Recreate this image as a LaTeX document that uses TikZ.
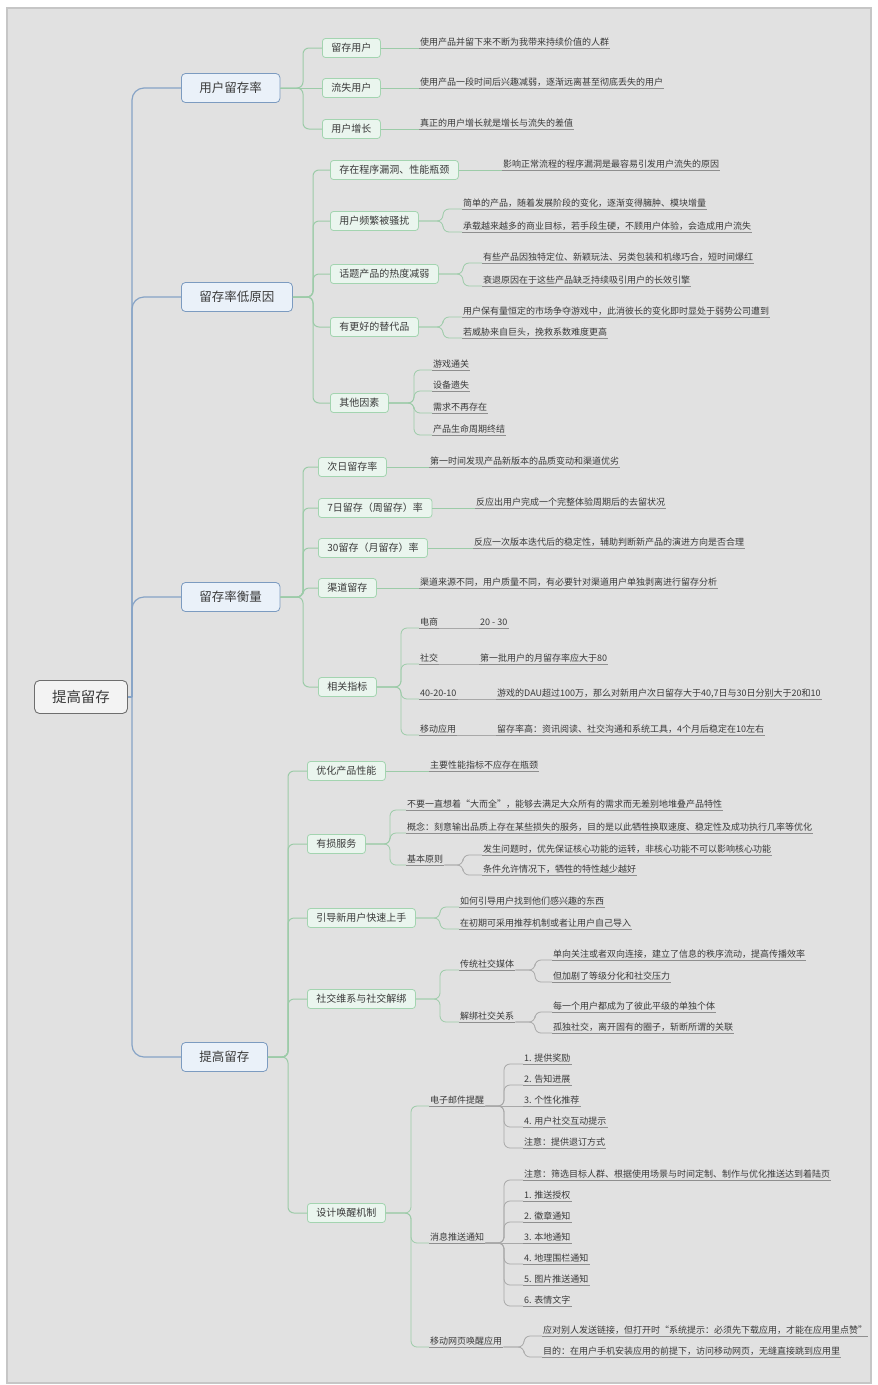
\documentclass[tikz,border=0pt]{standalone}
\usepackage{fontspec}
\setmainfont{Noto Sans CJK SC}
\usetikzlibrary{calc}
\definecolor{bg}{HTML}{E1E1E1}
\definecolor{bgedge}{HTML}{C6C6C6}
\definecolor{txt}{HTML}{3A3A3A}
\definecolor{rootline}{HTML}{86A3C6}
\definecolor{rootdraw}{HTML}{6E6E6E}
\definecolor{rootfill}{HTML}{F3F3F3}
\definecolor{lonedraw}{HTML}{7C9BC0}
\definecolor{lonefill}{HTML}{EAF1F9}
\definecolor{ltwodraw}{HTML}{A3D4B0}
\definecolor{ltwofill}{HTML}{EAF5EE}
\definecolor{greenline}{HTML}{9CCBA8}
\definecolor{grayline}{HTML}{A8A8A8}
\definecolor{ulcol}{HTML}{8E8E8E}
\tikzset{
  rootbox/.style={draw=rootdraw, fill=rootfill, line width=0.9pt, rounded corners=5pt,
    minimum width=93pt, minimum height=33pt, font=\fontsize{14.5}{16}\selectfont, text=txt},
  lonebox/.style={draw=lonedraw, fill=lonefill, line width=0.8pt, rounded corners=4pt,
    minimum height=29pt, inner xsep=18pt, font=\fontsize{12.5}{14}\selectfont, text=txt, anchor=west},
  ltwobox/.style={draw=ltwodraw, fill=ltwofill, line width=0.8pt, rounded corners=3pt,
    minimum height=19pt, inner xsep=9pt, inner ysep=1pt, font=\fontsize{10}{12}\selectfont, text=txt, anchor=west},
  ulstyle/.style={draw=ulcol, line width=0.7pt},
  leaf/.style={anchor=south west, inner xsep=1pt, inner ysep=1.5pt, text height=7.5pt, text depth=1pt,
    font=\fontsize{9}{10}\selectfont, text=txt,
    append after command={(\tikzlastnode.south west) edge[ulstyle] (\tikzlastnode.south east)}},
  czero/.style={draw=rootline, line width=1.2pt, rounded corners=12pt},
  cone/.style={draw=greenline, line width=1pt, rounded corners=6pt},
  ctwo/.style={draw=greenline, line width=0.8pt, rounded corners=6pt},
  cthree/.style={draw=grayline, line width=0.8pt, rounded corners=6pt}
}
\begin{document}
\begin{tikzpicture}[x=1pt,y=-1pt]
\useasboundingbox (0,0) rectangle (878,1385);
\fill[white] (0,0) rectangle (878,1385);
\filldraw[fill=bg, draw=bgedge, line width=1.5pt] (7,8) rectangle (871,1383);

% root and level 1
\node[rootbox] (root) at (81,697) {提高留存};
\node[lonebox] (a1) at (181,88) {用户留存率};
\node[lonebox] (a2) at (181,297) {留存率低原因};
\node[lonebox] (a3) at (181,597) {留存率衡量};
\node[lonebox] (a4) at (181,1057) {提高留存};

\coordinate (t0) at (132,0);
\coordinate (t1) at (303,0);
\coordinate (t2) at (313,0);
\coordinate (t3) at (303,0);
\coordinate (t4) at (288,0);

% ---------- group 1
\node[ltwobox] (b11) at (322,48) {留存用户};
\node[ltwobox] (b12) at (322,88) {流失用户};
\node[ltwobox] (b13) at (322,129) {用户增长};
\node[leaf] (c11) at (419,48) {使用产品并留下来不断为我带来持续价值的人群};
\node[leaf] (c12) at (419,88) {使用产品一段时间后兴趣减弱，逐渐远离甚至彻底丢失的用户};
\node[leaf] (c13) at (419,129) {真正的用户增长就是增长与流失的差值};

% ---------- group 2
\node[ltwobox] (b21) at (330,170) {存在程序漏洞、性能瓶颈};
\node[ltwobox] (b22) at (330,221) {用户频繁被骚扰};
\node[ltwobox] (b23) at (330,274) {话题产品的热度减弱};
\node[ltwobox] (b24) at (330,327) {有更好的替代品};
\node[ltwobox] (b25) at (330,403) {其他因素};
\node[leaf] (c21) at (502,170) {影响正常流程的程序漏洞是最容易引发用户流失的原因};
\node[leaf] (c22a) at (462,209) {简单的产品，随着发展阶段的变化，逐渐变得臃肿、模块增量};
\node[leaf] (c22b) at (462,232) {承载越来越多的商业目标，若手段生硬，不顾用户体验，会造成用户流失};
\node[leaf] (c23a) at (482,263) {有些产品因独特定位、新颖玩法、另类包装和机缘巧合，短时间爆红};
\node[leaf] (c23b) at (482,286) {衰退原因在于这些产品缺乏持续吸引用户的长效引擎};
\node[leaf] (c24a) at (462,317) {用户保有量恒定的市场争夺游戏中，此消彼长的变化即时显处于弱势公司遭到};
\node[leaf] (c24b) at (462,338) {若威胁来自巨头，挽救系数难度更高};
\node[leaf] (c25a) at (432,370) {游戏通关};
\node[leaf] (c25b) at (432,391) {设备遗失};
\node[leaf] (c25c) at (432,413) {需求不再存在};
\node[leaf] (c25d) at (432,435) {产品生命周期终结};
\coordinate (j22) at (443,221);
\coordinate (j23) at (463,274);
\coordinate (j24) at (443,327);
\coordinate (j25) at (414,403);

% ---------- group 3
\node[ltwobox] (b31) at (318,467) {次日留存率};
\node[ltwobox] (b32) at (318,508) {7日留存（周留存）率};
\node[ltwobox] (b33) at (318,548) {30留存（月留存）率};
\node[ltwobox] (b34) at (318,588) {渠道留存};
\node[ltwobox] (b35) at (318,687) {相关指标};
\node[leaf] (c31) at (429,467) {第一时间发现产品新版本的品质变动和渠道优劣};
\node[leaf] (c32) at (475,508) {反应出用户完成一个完整体验周期后的去留状况};
\node[leaf] (c33) at (473,548) {反应一次版本迭代后的稳定性，辅助判断新产品的演进方向是否合理};
\node[leaf] (c34) at (419,588) {渠道来源不同，用户质量不同，有必要针对渠道用户单独剥离进行留存分析};
\coordinate (j35) at (401,687);
\node[leaf] (c35a) at (419,628) {电商};
\node[leaf] (c35b) at (419,664) {社交};
\node[leaf] (c35c) at (419,699) {40-20-10};
\node[leaf] (c35d) at (419,735) {移动应用};
\node[leaf] (d35a) at (479,628) {20 - 30};
\node[leaf] (d35b) at (479,664) {第一批用户的月留存率应大于80};
\node[leaf] (d35c) at (496,699) {游戏的DAU超过100万，那么对新用户次日留存大于40,7日与30日分别大于20和10};
\node[leaf] (d35d) at (496,735) {留存率高：资讯阅读、社交沟通和系统工具，4个月后稳定在10左右};

% ---------- group 4
\node[ltwobox] (b41) at (307,771) {优化产品性能};
\node[ltwobox] (b42) at (307,844) {有损服务};
\node[ltwobox] (b43) at (307,918) {引导新用户快速上手};
\node[ltwobox] (b44) at (307,999) {社交维系与社交解绑};
\node[ltwobox] (b45) at (307,1213) {设计唤醒机制};
\node[leaf] (c41) at (429,771) {主要性能指标不应存在瓶颈};

\coordinate (j42) at (390,844);
\node[leaf] (c42a) at (406,810) {不要一直想着“大而全”，能够去满足大众所有的需求而无差别地堆叠产品特性};
\node[leaf] (c42b) at (406,833) {概念：刻意输出品质上存在某些损失的服务，目的是以此牺牲换取速度、稳定性及成功执行几率等优化};
\node[leaf] (c42c) at (406,865) {基本原则};
\coordinate (j42c) at (463,865);
\node[leaf] (c42d) at (482,855) {发生问题时，优先保证核心功能的运转，非核心功能不可以影响核心功能};
\node[leaf] (c42e) at (482,875) {条件允许情况下，牺牲的特性越少越好};

\coordinate (j43) at (440,918);
\node[leaf] (c43a) at (459,907) {如何引导用户找到他们感兴趣的东西};
\node[leaf] (c43b) at (459,929) {在初期可采用推荐机制或者让用户自己导入};

\coordinate (j44) at (440,999);
\node[leaf] (c44a) at (459,970) {传统社交媒体};
\node[leaf] (c44b) at (459,1022) {解绑社交关系};
\coordinate (j44a) at (535,970);
\coordinate (j44b) at (535,1022);
\node[leaf] (c44a1) at (552,960) {单向关注或者双向连接，建立了信息的秩序流动，提高传播效率};
\node[leaf] (c44a2) at (552,982) {但加剧了等级分化和社交压力};
\node[leaf] (c44b1) at (552,1012) {每一个用户都成为了彼此平级的单独个体};
\node[leaf] (c44b2) at (552,1033) {孤独社交，离开固有的圈子，斩断所谓的关联};

\coordinate (j45) at (411,1213);
\node[leaf] (c45a) at (429,1106) {电子邮件提醒};
\node[leaf] (c45b) at (429,1243) {消息推送通知};
\node[leaf] (c45c) at (429,1347) {移动网页唤醒应用};
\coordinate (j45a) at (504,1106);
\coordinate (j45b) at (504,1243);
\coordinate (j45c) at (524,1347);
\node[leaf] (e1) at (523,1064) {1. 提供奖励};
\node[leaf] (e2) at (523,1085) {2. 告知进展};
\node[leaf] (e3) at (523,1106) {3. 个性化推荐};
\node[leaf] (e4) at (523,1127) {4. 用户社交互动提示};
\node[leaf] (e5) at (523,1148) {注意：提供退订方式};
\node[leaf] (m0) at (523,1180) {注意：筛选目标人群、根据使用场景与时间定制、制作与优化推送达到着陆页};
\node[leaf] (m1) at (523,1201) {1. 推送授权};
\node[leaf] (m2) at (523,1222) {2. 徽章通知};
\node[leaf] (m3) at (523,1243) {3. 本地通知};
\node[leaf] (m4) at (523,1264) {4. 地理围栏通知};
\node[leaf] (m5) at (523,1285) {5. 图片推送通知};
\node[leaf] (m6) at (523,1306) {6. 表情文字};
\node[leaf] (w1) at (542,1336) {应对别人发送链接，但打开时“系统提示：必须先下载应用，才能在应用里点赞”};
\node[leaf] (w2) at (542,1357) {目的：在用户手机安装应用的前提下，访问移动网页，无缝直接跳到应用里};

% ---------- connectors: root
\draw[czero, sharp corners] (root.east) -- (root.east -| t0);
\foreach \n in {a1,a2,a3,a4}
  \draw[czero] (root.east -| t0) |- (\n.west);

% level 1 -> level 2
\draw[cone] (a1.east) -- (b12.west);
\foreach \n in {b11,b13}
  \draw[cone] (a1.east) -- (a1.east -| t1) |- (\n.west);
\foreach \n in {b21,b22,b23,b24,b25}
  \draw[cone] (a2.east) -- (a2.east -| t2) |- (\n.west);
\foreach \n in {b31,b32,b33,b34,b35}
  \draw[cone] (a3.east) -- (a3.east -| t3) |- (\n.west);
\foreach \n in {b41,b42,b43,b44,b45}
  \draw[cone] (a4.east) -- (a4.east -| t4) |- (\n.west);

% level 2 -> leaves
\draw[ctwo] (b11.east) -- (c11.south west);
\draw[ctwo] (b12.east) -- (c12.south west);
\draw[ctwo] (b13.east) -- (c13.south west);
\draw[ctwo] (b21.east) -- (c21.south west);
\foreach \n in {c22a,c22b} \draw[ctwo] (b22.east) -- (j22) |- (\n.south west);
\foreach \n in {c23a,c23b} \draw[ctwo] (b23.east) -- (j23) |- (\n.south west);
\foreach \n in {c24a,c24b} \draw[ctwo] (b24.east) -- (j24) |- (\n.south west);
\foreach \n in {c25a,c25b,c25c,c25d} \draw[ctwo] (b25.east) -- (j25) |- (\n.south west);

\draw[ctwo] (b31.east) -- (c31.south west);
\draw[ctwo] (b32.east) -- (c32.south west);
\draw[ctwo] (b33.east) -- (c33.south west);
\draw[ctwo] (b34.east) -- (c34.south west);
\foreach \n in {c35a,c35b,c35c,c35d} \draw[ctwo] (b35.east) -- (j35) |- (\n.south west);
\draw[cthree] (c35a.south east) -- (d35a.south west);
\draw[cthree] (c35b.south east) -- (d35b.south west);
\draw[cthree] (c35c.south east) -- (d35c.south west);
\draw[cthree] (c35d.south east) -- (d35d.south west);

\draw[ctwo] (b41.east) -- (c41.south west);
\foreach \n in {c42a,c42b,c42c} \draw[ctwo] (b42.east) -- (j42) |- (\n.south west);
\foreach \n in {c42d,c42e} \draw[cthree] (c42c.south east) -- (j42c) |- (\n.south west);
\foreach \n in {c43a,c43b} \draw[ctwo] (b43.east) -- (j43) |- (\n.south west);
\foreach \n in {c44a,c44b} \draw[ctwo] (b44.east) -- (j44) |- (\n.south west);
\foreach \n in {c44a1,c44a2} \draw[cthree] (c44a.south east) -- (j44a) |- (\n.south west);
\foreach \n in {c44b1,c44b2} \draw[cthree] (c44b.south east) -- (j44b) |- (\n.south west);
\foreach \n in {c45a,c45b,c45c} \draw[ctwo] (b45.east) -- (j45) |- (\n.south west);
\foreach \n in {e1,e2,e4,e5} \draw[cthree] (c45a.south east) -- (j45a) |- (\n.south west);
\draw[cthree] (c45a.south east) -- (e3.south west);
\foreach \n in {m0,m1,m2,m4,m5,m6} \draw[cthree] (c45b.south east) -- (j45b) |- (\n.south west);
\draw[cthree] (c45b.south east) -- (m3.south west);
\foreach \n in {w1,w2} \draw[cthree] (c45c.south east) -- (j45c) |- (\n.south west);
\end{tikzpicture}
\end{document}
